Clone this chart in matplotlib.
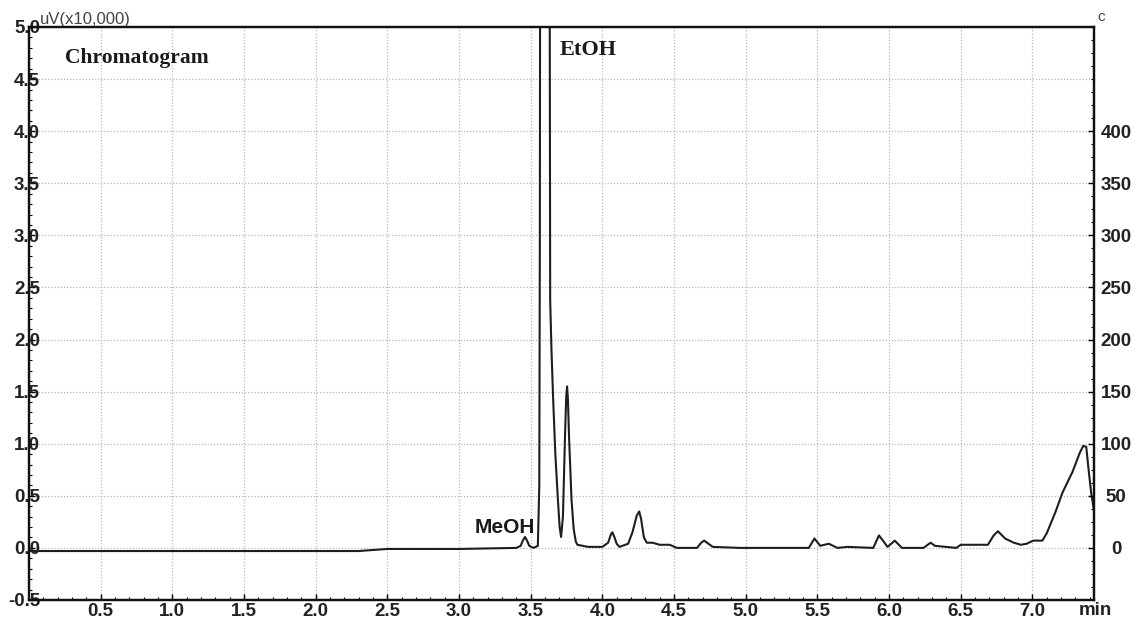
import matplotlib
matplotlib.use("Agg")
import matplotlib.pyplot as plt
from matplotlib.ticker import MultipleLocator, FixedLocator

# ---- traced data (time in min, signal in uV x10,000) ----
time_min = [0.00, 1.00, 2.00, 2.30, 2.50, 3.00, 3.40, 3.43, 3.445, 3.46, 3.475, 3.49, 3.52,
            3.550, 3.560, 3.564, 3.566, 3.632, 3.636, 3.645, 3.657, 3.672, 3.690,
            3.702, 3.712, 3.725, 3.740, 3.748, 3.754, 3.760, 3.768, 3.785, 3.800, 3.815, 3.826,
            3.90, 4.00, 4.04, 4.06, 4.07, 4.085, 4.10, 4.12, 4.18, 4.21, 4.24, 4.257, 4.27,
            4.29, 4.31, 4.35, 4.40, 4.47, 4.52, 4.66, 4.69, 4.71, 4.73, 4.77, 4.96, 5.20,
            5.44, 5.48, 5.52, 5.58, 5.64, 5.71, 5.89, 5.93, 5.99, 6.04, 6.09, 6.24, 6.29,
            6.32, 6.47, 6.50, 6.69, 6.73, 6.76, 6.81, 6.87, 6.92, 6.96, 7.006, 7.07,
            7.10, 7.16, 7.21, 7.28, 7.33, 7.355, 7.376, 7.39, 7.41, 7.43]
signal = [-0.03, -0.03, -0.03, -0.03, -0.01, -0.01, 0.00, 0.02, 0.07, 0.105, 0.07, 0.02, 0.00,
          0.02, 0.60, 3.00, 6.00, 6.00, 2.38, 1.90, 1.42, 0.90, 0.46,
          0.20, 0.105, 0.30, 1.10, 1.45, 1.55, 1.42, 1.05, 0.46, 0.18, 0.06, 0.03,
          0.01, 0.01, 0.05, 0.13, 0.15, 0.10, 0.04, 0.01, 0.04, 0.15, 0.31, 0.35, 0.28,
          0.10, 0.05, 0.05, 0.03, 0.03, 0.00, 0.00, 0.05, 0.07, 0.05, 0.01, 0.00, 0.00,
          0.00, 0.09, 0.02, 0.04, 0.00, 0.01, 0.00, 0.12, 0.01, 0.07, 0.00, 0.00, 0.05,
          0.02, 0.00, 0.03, 0.03, 0.12, 0.16, 0.09, 0.05, 0.03, 0.04, 0.07, 0.07,
          0.14, 0.34, 0.53, 0.73, 0.91, 0.98, 0.97, 0.78, 0.53, 0.36]

x_ticks = [0.5, 1.0, 1.5, 2.0, 2.5, 3.0, 3.5, 4.0, 4.5, 5.0, 5.5, 6.0, 6.5, 7.0]
y_ticks = [-0.5, 0.0, 0.5, 1.0, 1.5, 2.0, 2.5, 3.0, 3.5, 4.0, 4.5, 5.0]
y2_ticks = [0, 50, 100, 150, 200, 250, 300, 350, 400]

W, H = 1139, 620
fig = plt.figure(figsize=(W / 100, H / 100), dpi=100)
ax = fig.add_axes([29 / W, 20 / H, (1094 - 29) / W, (600 - 27) / H])

ax.plot(time_min, signal, color="#1e1e1e", lw=1.5, zorder=3, solid_joinstyle="round")
ax.set_xlim(0, 7.43)
ax.set_ylim(-0.5, 5.0)

tick_font = dict(family="Liberation Sans", weight="bold", size=13.5)

ax.xaxis.set_major_locator(FixedLocator(x_ticks))
ax.set_xticklabels([f"{v:.1f}" for v in x_ticks], **tick_font, color="#222")
ax.yaxis.set_major_locator(FixedLocator(y_ticks))
ax.set_yticklabels([f"{v:.1f}" for v in y_ticks], **tick_font, color="#222")
ax.xaxis.set_minor_locator(MultipleLocator(0.1))
ax.yaxis.set_minor_locator(MultipleLocator(0.1))
ax.tick_params(axis="x", which="major", direction="in", length=4, width=1, pad=2)
ax.tick_params(axis="y", which="major", direction="in", length=4, width=1, pad=-8)
ax.tick_params(which="minor", direction="in", length=2.5, width=0.8)
ax.tick_params(top=False, right=False)

ax.grid(True, which="major", linestyle=(0, (1, 1.5)), color="#b8b8b8", lw=0.9, zorder=0)

for s in ax.spines.values():
    s.set_linewidth(1.6)
    s.set_color("#111")

ax2 = ax.twinx()
ax2.set_ylim(-50, 500)
ax2.yaxis.set_major_locator(FixedLocator(y2_ticks))
ax2.set_yticklabels([str(v) for v in y2_ticks], **tick_font, color="#222")
ax2.yaxis.set_minor_locator(MultipleLocator(12.5))
ax2.tick_params(axis="y", which="major", direction="in", length=4, width=1, pad=16)
ax2.tick_params(axis="y", which="minor", direction="in", length=2.5, width=0.8)
for lbl in ax2.get_yticklabels():
    lbl.set_horizontalalignment("center")
for s in ax2.spines.values():
    s.set_linewidth(1.6)
    s.set_color("#111")

# annotations
ax.text(3.53, 0.14, "MeOH", ha="right", va="baseline",
        family="Liberation Sans", weight="bold", size=15, color="#1a1a1a", zorder=4)
ax.text(3.705, 4.78, "EtOH", ha="left", va="center",
        family="Liberation Serif", weight="bold", size=16, color="#1a1a1a", zorder=4)
ax.text(0.25, 4.70, "Chromatogram", ha="left", va="center",
        family="Liberation Serif", weight="bold", size=15.5, color="#1a1a1a", zorder=4)

# axis unit labels
ax.text(0.01, 1.0, "uV(x10,000)", transform=ax.transAxes, ha="left", va="bottom",
        family="Liberation Sans", size=12, color="#444")
ax.text(1.003, 1.005, "c", transform=ax.transAxes, ha="left", va="bottom",
        family="Liberation Sans", size=11, color="#444")
ax.text(1.001, -0.0035, "min", transform=ax.transAxes, ha="center", va="top",
        family="Liberation Sans", weight="bold", size=13.5, color="#222")

fig.savefig("out.png", dpi=100, facecolor="white")
